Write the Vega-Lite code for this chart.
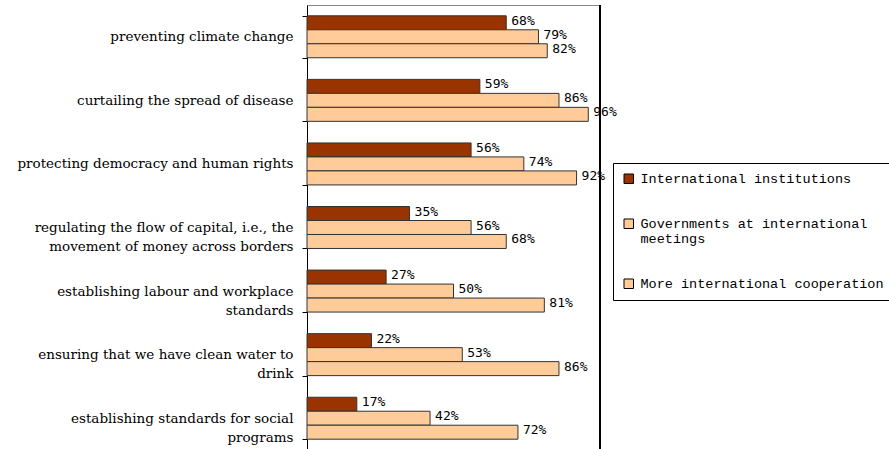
{
  "$schema": "https://vega.github.io/schema/vega-lite/v6.json",
  "width": 293,
  "height": 445,
  "autosize": {"type": "none"},
  "padding": {"left": 307, "top": 5, "right": 289, "bottom": 0},
  "background": "white",
  "config": {
    "view": {"stroke": "#888888", "strokeWidth": 1},
    "font": "DejaVu Serif"
  },
  "data": {
    "values": [
      {"issue": "preventing climate change", "series": "International institutions", "value": 0.68},
      {"issue": "preventing climate change", "series": "Governments at international meetings", "value": 0.79},
      {"issue": "preventing climate change", "series": "More international cooperation", "value": 0.82},
      {"issue": "curtailing the spread of disease", "series": "International institutions", "value": 0.59},
      {"issue": "curtailing the spread of disease", "series": "Governments at international meetings", "value": 0.86},
      {"issue": "curtailing the spread of disease", "series": "More international cooperation", "value": 0.96},
      {"issue": "protecting democracy and human rights", "series": "International institutions", "value": 0.56},
      {"issue": "protecting democracy and human rights", "series": "Governments at international meetings", "value": 0.74},
      {"issue": "protecting democracy and human rights", "series": "More international cooperation", "value": 0.92},
      {"issue": "regulating the flow of capital, i.e., the movement of money across borders", "series": "International institutions", "value": 0.35},
      {"issue": "regulating the flow of capital, i.e., the movement of money across borders", "series": "Governments at international meetings", "value": 0.56},
      {"issue": "regulating the flow of capital, i.e., the movement of money across borders", "series": "More international cooperation", "value": 0.68},
      {"issue": "establishing labour and workplace standards", "series": "International institutions", "value": 0.27},
      {"issue": "establishing labour and workplace standards", "series": "Governments at international meetings", "value": 0.50},
      {"issue": "establishing labour and workplace standards", "series": "More international cooperation", "value": 0.81},
      {"issue": "ensuring that we have clean water to drink", "series": "International institutions", "value": 0.22},
      {"issue": "ensuring that we have clean water to drink", "series": "Governments at international meetings", "value": 0.53},
      {"issue": "ensuring that we have clean water to drink", "series": "More international cooperation", "value": 0.86},
      {"issue": "establishing standards for social programs", "series": "International institutions", "value": 0.17},
      {"issue": "establishing standards for social programs", "series": "Governments at international meetings", "value": 0.42},
      {"issue": "establishing standards for social programs", "series": "More international cooperation", "value": 0.72}
    ]
  },
  "encoding": {
    "y": {
      "field": "issue",
      "type": "nominal",
      "sort": null,
      "scale": {"paddingInner": 0.34, "paddingOuter": 0.17},
      "axis": {
        "title": null,
        "domainColor": "black",
        "tickColor": "black",
        "tickSize": 5,
        "tickBand": "extent",
        "labelFont": "DejaVu Serif",
        "labelFontSize": 13.5,
        "labelColor": "black",
        "labelPadding": 9,
        "labelLimit": 320,
        "labelLineHeight": 19,
        "labelAlign": "right",
        "labelExpr": "datum.label === 'regulating the flow of capital, i.e., the movement of money across borders' ? ['regulating the flow of capital, i.e., the', 'movement of money across borders'] : datum.label === 'establishing labour and workplace standards' ? ['establishing labour and workplace', 'standards'] : datum.label === 'ensuring that we have clean water to drink' ? ['ensuring that we have clean water to', 'drink'] : datum.label === 'establishing standards for social programs' ? ['establishing standards for social', 'programs'] : datum.label"
      }
    },
    "yOffset": {
      "field": "series",
      "type": "nominal",
      "sort": ["International institutions", "Governments at international meetings", "More international cooperation"],
      "scale": {"paddingInner": 0, "paddingOuter": 0}
    },
    "x": {
      "field": "value",
      "type": "quantitative",
      "scale": {"domain": [0, 1], "nice": false},
      "axis": null
    }
  },
  "layer": [
    {
      "mark": {"type": "bar", "stroke": "#333333", "strokeWidth": 1},
      "encoding": {
        "color": {
          "field": "series",
          "type": "nominal",
          "scale": {
            "domain": ["International institutions", "Governments at international meetings", "More international cooperation"],
            "range": ["#993300", "#FFCC99", "#FFCC99"]
          },
          "legend": {
            "title": null,
            "orient": "none",
            "legendX": 306,
            "legendY": 158,
            "direction": "vertical",
            "padding": 9,
            "strokeColor": "black",
            "fillColor": "white",
            "symbolType": "square",
            "symbolSize": 90,
            "symbolStrokeColor": "black",
            "symbolStrokeWidth": 1,
            "labelFont": "Liberation Mono",
            "labelFontSize": 13.5,
            "labelColor": "black",
            "labelLimit": 400,
            "labelOffset": 5,
            "labelLineHeight": 18,
            "rowPadding": 30,
            "labelExpr": "datum.label === 'Governments at international meetings' ? ['Governments at international', 'meetings'] : datum.label"
          }
        }
      }
    },
    {
      "mark": {"type": "text", "align": "left", "baseline": "middle", "dx": 5, "dy": -2, "font": "DejaVu Sans Mono", "fontSize": 13, "color": "black"},
      "encoding": {
        "text": {"field": "value", "type": "quantitative", "format": ".0%"}
      }
    },
    {
      "mark": {"type": "rule", "color": "black", "strokeWidth": 1},
      "encoding": {"x": {"datum": 1}, "y": null, "yOffset": null}
    }
  ]
}
